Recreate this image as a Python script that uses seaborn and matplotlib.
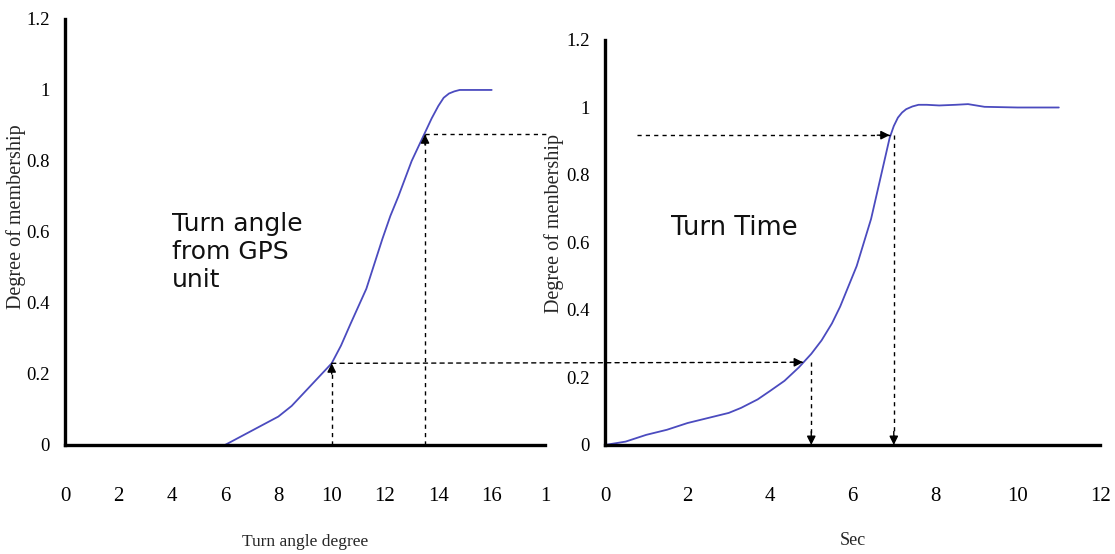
import matplotlib
matplotlib.use("Agg")
import matplotlib.pyplot as plt
from matplotlib.patches import ConnectionPatch
import seaborn as sns
import pandas as pd

# ---------------- data ----------------
angle_x = [6, 6.5, 7, 7.5, 8, 8.5, 9, 9.5, 10, 10.35, 10.7, 11.0, 11.3, 11.6, 11.9,
           12.2, 12.5, 12.75, 13, 13.25, 13.5, 13.75, 14, 14.2, 14.4, 14.6, 14.8, 15, 16]
angle_y = [0, 0.02, 0.04, 0.06, 0.08, 0.11, 0.15, 0.19, 0.23, 0.28, 0.34, 0.39, 0.44, 0.51, 0.58,
           0.645, 0.70, 0.75, 0.80, 0.84, 0.88, 0.92, 0.955, 0.978, 0.99, 0.996, 1.0, 1.0, 1.0]

time_x = [0, 0.5, 1.0, 1.5, 2.0, 2.5, 3.0, 3.3, 3.7, 4.0, 4.35, 4.7, 5.0, 5.25, 5.5, 5.7, 5.9,
          6.1, 6.25, 6.45, 6.6, 6.75, 6.9, 7.0, 7.1, 7.2, 7.3, 7.45, 7.6, 7.8, 8.1, 8.5, 8.8, 9.2, 10, 11]
time_y = [0, 0.01, 0.03, 0.045, 0.065, 0.08, 0.095, 0.11, 0.135, 0.16, 0.19, 0.23, 0.27, 0.31, 0.36,
          0.41, 0.47, 0.53, 0.59, 0.67, 0.75, 0.83, 0.91, 0.945, 0.97, 0.985, 0.995, 1.003, 1.008,
          1.008, 1.006, 1.008, 1.01, 1.002, 1.0, 1.0]

left_xticks = [0, 2, 4, 6, 8, 10, 12, 14, 16, 18]
left_xticklabels = ["0", "2", "4", "6", "8", "10", "12", "14", "16", "1"]
right_xticks = [0, 2, 4, 6, 8, 10, 12]
right_xticklabels = ["0", "2", "4", "6", "8", "10", "12"]
yticks = [0, 0.2, 0.4, 0.6, 0.8, 1.0, 1.2]
yticklabels = ["0", "0.2", "0.4", "0.6", "0.8", "1", "1.2"]

# reading guides (x, y)
angle_low = (10, 0.23)
angle_high = (13.5, 0.875)
time_low = (5, 0.245)
time_high = (7, 0.918)

sns.set_style("white")
plt.rcParams["font.family"] = ["Liberation Serif", "DejaVu Serif"]

LINE = "#4b4bbf"

fig = plt.figure(figsize=(11.15, 5.54), dpi=100)
ax1 = fig.add_axes([0.0583, 0.1968, 0.4305, 0.769])
ax2 = fig.add_axes([0.5426, 0.1968, 0.444, 0.731])

df1 = pd.DataFrame({"x": angle_x, "y": angle_y})
df2 = pd.DataFrame({"x": time_x, "y": time_y})
sns.lineplot(data=df1, x="x", y="y", ax=ax1, color=LINE, lw=1.3, sort=False)
sns.lineplot(data=df2, x="x", y="y", ax=ax2, color=LINE, lw=1.3, sort=False)

for ax, xt, xl, xmax, ylab in [
    (ax1, left_xticks, left_xticklabels, 18, "Degree of membership"),
    (ax2, right_xticks, right_xticklabels, 12, "Degree of menbership"),
]:
    ax.set_xlim(0, xmax)
    ax.set_ylim(0, 1.2)
    ax.set_xticks(xt)
    ax.set_xticklabels(xl)
    ax.set_yticks(yticks)
    ax.set_yticklabels(yticklabels)
    for s in ["top", "right"]:
        ax.spines[s].set_visible(False)
    for s in ["left", "bottom"]:
        ax.spines[s].set_linewidth(2.4)
        ax.spines[s].set_color("black")
    ax.tick_params(axis="x", direction="in", length=5, width=1, pad=30,
                   labelsize=15, colors="black")
    ax.tick_params(axis="y", direction="in", length=5, width=1, pad=11,
                   labelsize=13.5, colors="black")
    ax.set_ylabel(ylab, fontsize=14.5)
    ax.set_xlabel("")

ax1.yaxis.set_label_coords(-0.082, 0.535)
ax2.yaxis.set_label_coords(-0.082, 0.548)
ax1.set_xlabel("Turn angle degree", fontsize=12.5)
ax2.set_xlabel("Sec", fontsize=13)
ax1.xaxis.set_label_coords(0.5, -0.21)
ax2.xaxis.set_label_coords(0.5, -0.215)

dash = dict(color="black", lw=1.0, ls=(0, (3, 3)), clip_on=False)
head = dict(arrowstyle="-|>", color="black", lw=1.0, mutation_scale=13,
            shrinkA=0, shrinkB=0)

# left panel verticals (arrows up)
for (x, y) in [angle_low, angle_high]:
    ax1.plot([x, x], [0, y], **dash)
    ax1.annotate("", xy=(x, y), xytext=(x, y - 0.03), arrowprops=head)

# left upper horizontal guide
ax1.plot([angle_high[0], 18.1], [angle_high[1], angle_high[1]], **dash)

# long horizontal guide across panels
con = ConnectionPatch(xyA=angle_low, coordsA=ax1.transData,
                      xyB=(4.8, time_low[1]), coordsB=ax2.transData,
                      color="black", lw=1.0, linestyle=(0, (3, 3)))
fig.add_artist(con)
ax2.annotate("", xy=(4.8, time_low[1]), xytext=(4.5, time_low[1]), arrowprops=head)

# right upper horizontal guide
ax2.plot([0.78, 6.9], [time_high[1], time_high[1]], **dash)
ax2.annotate("", xy=(6.9, time_high[1]), xytext=(6.6, time_high[1]), arrowprops=head)

# right verticals (arrows down)
for (x, y) in [time_low, time_high]:
    ax2.plot([x, x], [y, 0], **dash)
    ax2.annotate("", xy=(x, 0), xytext=(x, 0.04), arrowprops=head)

sans = ["DejaVu Sans"]
ax1.text(4.0, 0.655, "Turn angle\nfrom GPS\nunit", fontsize=18, family=sans,
         va="top", ha="left", linespacing=1.2, color="#111111")
ax2.text(1.6, 0.644, "Turn Time", fontsize=18.5, family=sans,
         va="center", ha="left", color="#111111")

fig.savefig("out.png", dpi=100)
